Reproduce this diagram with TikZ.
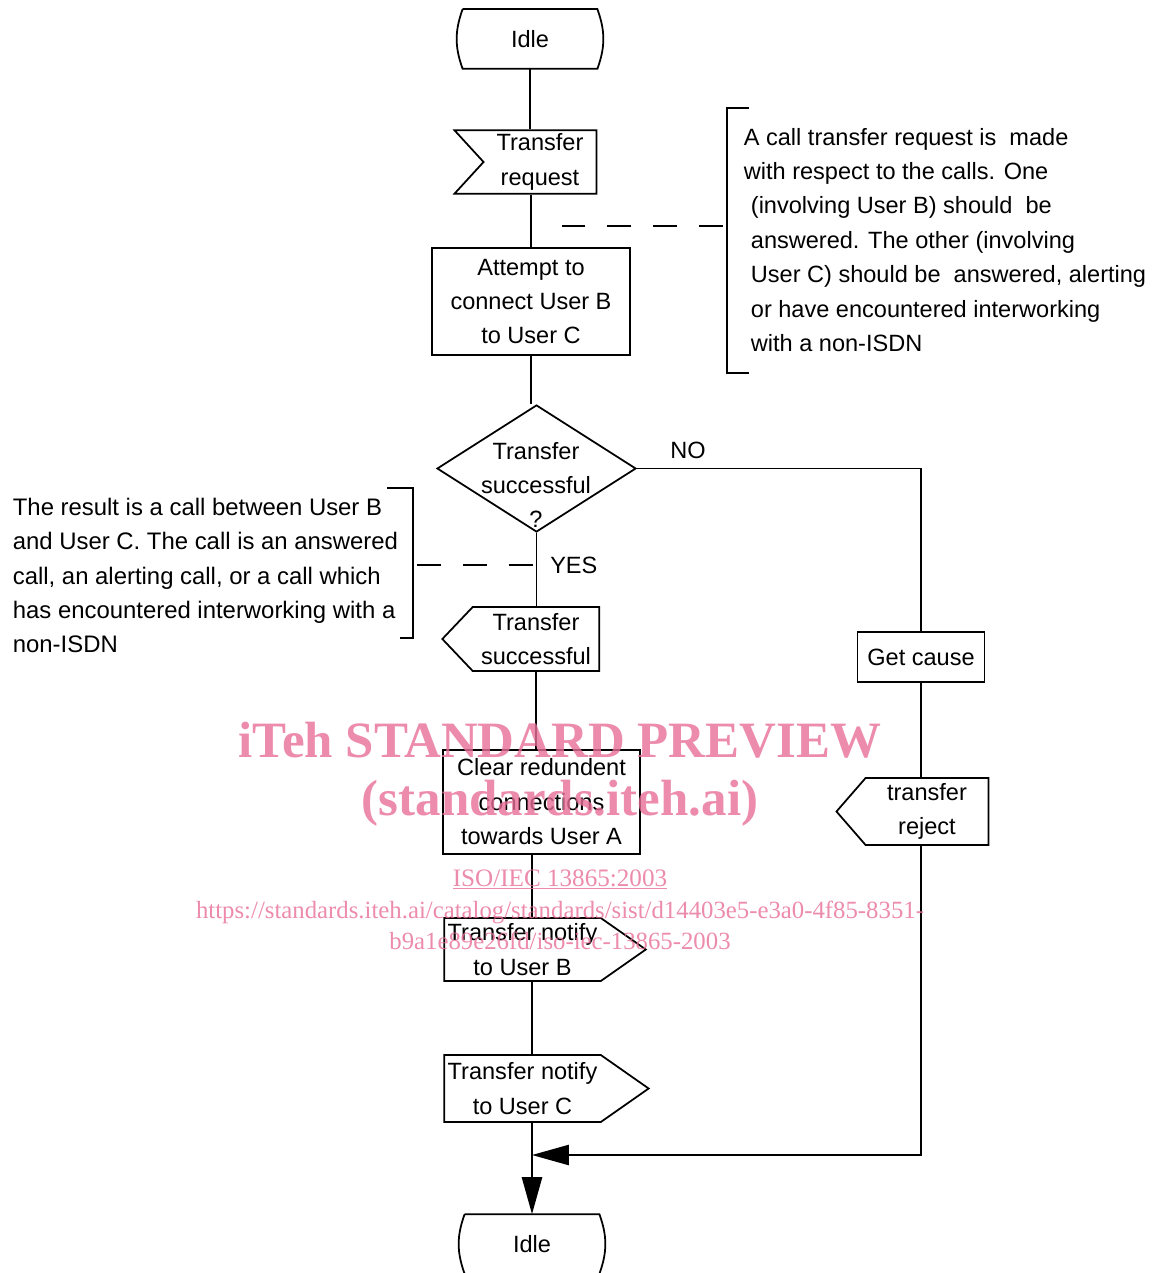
\documentclass[tikz,border=0pt]{standalone}
\usepackage{fontspec}
\setmainfont{Liberation Sans}
\newfontfamily\wmfont{Liberation Serif}
\usetikzlibrary{shapes.geometric,shapes.symbols,arrows.meta,positioning}

\definecolor{wmpink}{RGB}{231,110,150}

\begin{document}
\begin{tikzpicture}[
  x=0.02cm, y=-0.02cm,
  line width=1pt,
  every node/.style={font=\fontsize{13.4}{19.6}\selectfont},
  box/.style={draw, rectangle, align=center, inner sep=2pt},
  state/.style={align=center, minimum width=2.66cm, minimum height=1.16cm},
  input/.style={draw, signal, signal from=west, signal to=nowhere, align=center, inner sep=2pt},
  output/.style={draw, signal, signal from=nowhere, align=center, inner sep=2pt},
  decision/.style={draw, diamond, minimum width=3.98cm, minimum height=2.54cm, inner sep=0pt},
  note/.style={align=left, inner sep=0pt},
  arr/.style={-{Triangle[length=21pt,width=11.5pt]}},
  dashline/.style={dash pattern=on 13.6pt off 12.5pt},
  wm/.style={text=wmpink, text opacity=0.8, inner sep=0pt, anchor=base}
]
\useasboundingbox (0,0) rectangle (1165,1273);

% main column
\node[state] (idleA) at (530,39) {Idle};
\node[input, minimum width=2.84cm, minimum height=1.18cm, signal pointer angle=95] (req) at (540,162) {Transfer\\request};
\node[box, minimum width=3.96cm, minimum height=2.14cm] (attempt) at (531,301.5) {Attempt to\\connect User B\\to User C};
\node[decision] (dec) at (536.5,468.5) {};
\node[align=center, inner sep=0pt] (decTxt) at (536,485) {Transfer\\successful\\?};
\node[output, signal to=west, signal pointer angle=93, minimum width=3.14cm, minimum height=1.28cm] (succ) at (536,639) {Transfer\\successful};
\node[box, minimum width=3.94cm, minimum height=2.08cm] (clear) at (541.5,802) {Clear redundent\\connections\\towards User A};
\node[output, signal to=east, signal pointer angle=70, minimum width=4.02cm, minimum height=1.26cm] (notB) at (522.5,949.5) {Transfer notify\\to User B};
\node[output, signal to=east, signal pointer angle=70, minimum width=4.02cm, minimum height=1.34cm] (notC) at (522.5,1088.5) {Transfer notify\\to User C};
\node[state] (idleB) at (532,1244) {Idle};

% NO branch
\node[box, minimum width=2.54cm, minimum height=1cm] (cause) at (921,657) {Get cause};
\node[output, signal to=west, signal pointer angle=98, minimum width=3.04cm, minimum height=1.34cm] (reject) at (927,811.5) {transfer\\reject};
\coordinate (join) at (532,1155);

% state outlines
\foreach \s in {idleA, idleB}
  \draw (\s.north west) -- (\s.north east) to[bend left=20] (\s.south east)
        -- (\s.south west) to[bend left=20] (\s.north west);

\draw (idleA) -- (idleA |- req.north);
\draw (attempt.north |- req.south) -- (attempt.north);
\draw (attempt.south) -- (attempt.south |- dec.north);
\draw (dec.south) -- node[pos=0.44, right, xshift=4pt]{YES} (dec.south |- succ.north);
\draw (succ.south) -- (succ.south |- clear.north);
\draw (clear.south -| idleB) -- (notB.north -| idleB);
\draw (notB.south -| idleB) -- (notC.north -| idleB);
\draw[arr] (notC.south -| idleB) -- (idleB.north);
\draw (dec.east) -| node[pos=0.09, above, yshift=2pt]{NO} (cause.north);
\draw (cause.south) -- (cause.south |- reject.north);
\draw[arr] (cause.south |- reject.south) |- (join);

% comments
\node[note, anchor=west] (noteR) at (743,240) {A call transfer request is\ \ made\\with respect to the calls. One\\\hspace*{4pt}(involving User B) should\ \ be\\\hspace*{4pt}answered. The other (involving\\\hspace*{4pt}User C) should be\ \ answered, alerting\\\hspace*{4pt}or have encountered interworking\\\hspace*{4pt}with a non-ISDN};
\draw (749,108) -| (727,373) -- (749,373);
\coordinate (brR) at (723,226);
\coordinate (tapR) at (555,226);
\draw[dashline] (brR) -- (tapR);

\node[note, anchor=west, font=\fontsize{13.6}{19.6}\selectfont] (noteL) at (12,575.5) {The result is a call between User B\\and User C. The call is an answered\\call, an alerting call, or a call which\\has encountered interworking with a\\non-ISDN};
\draw (387,488) -| (413,638) -- (400,638);
\coordinate (brL) at (417,565);
\coordinate (tapL) at (dec.south |- brL);
\draw[dashline] (brL) -- (tapL);

% watermark
\node[wm, font=\wmfont\bfseries\fontsize{29}{29}\selectfont] (wm1) at (560,757) {iTeh STANDARD PREVIEW};
\node[wm, font=\wmfont\bfseries\fontsize{29}{29}\selectfont] (wm2) at (560,815) {(standards.iteh.ai)};
\node[wm, font=\wmfont\fontsize{14.3}{14.3}\selectfont] (wm3) at (560,886) {\underline{ISO/IEC 13865:2003}};
\node[wm, font=\wmfont\fontsize{14.1}{14.1}\selectfont] (wm4) at (560,918) {https://standards.iteh.ai/catalog/standards/sist/d14403e5-e3a0-4f85-8351-};
\node[wm, font=\wmfont\fontsize{14.1}{14.1}\selectfont] (wm5) at (560,949) {b9a1e89e26fd/iso-iec-13865-2003};
\end{tikzpicture}
\end{document}
